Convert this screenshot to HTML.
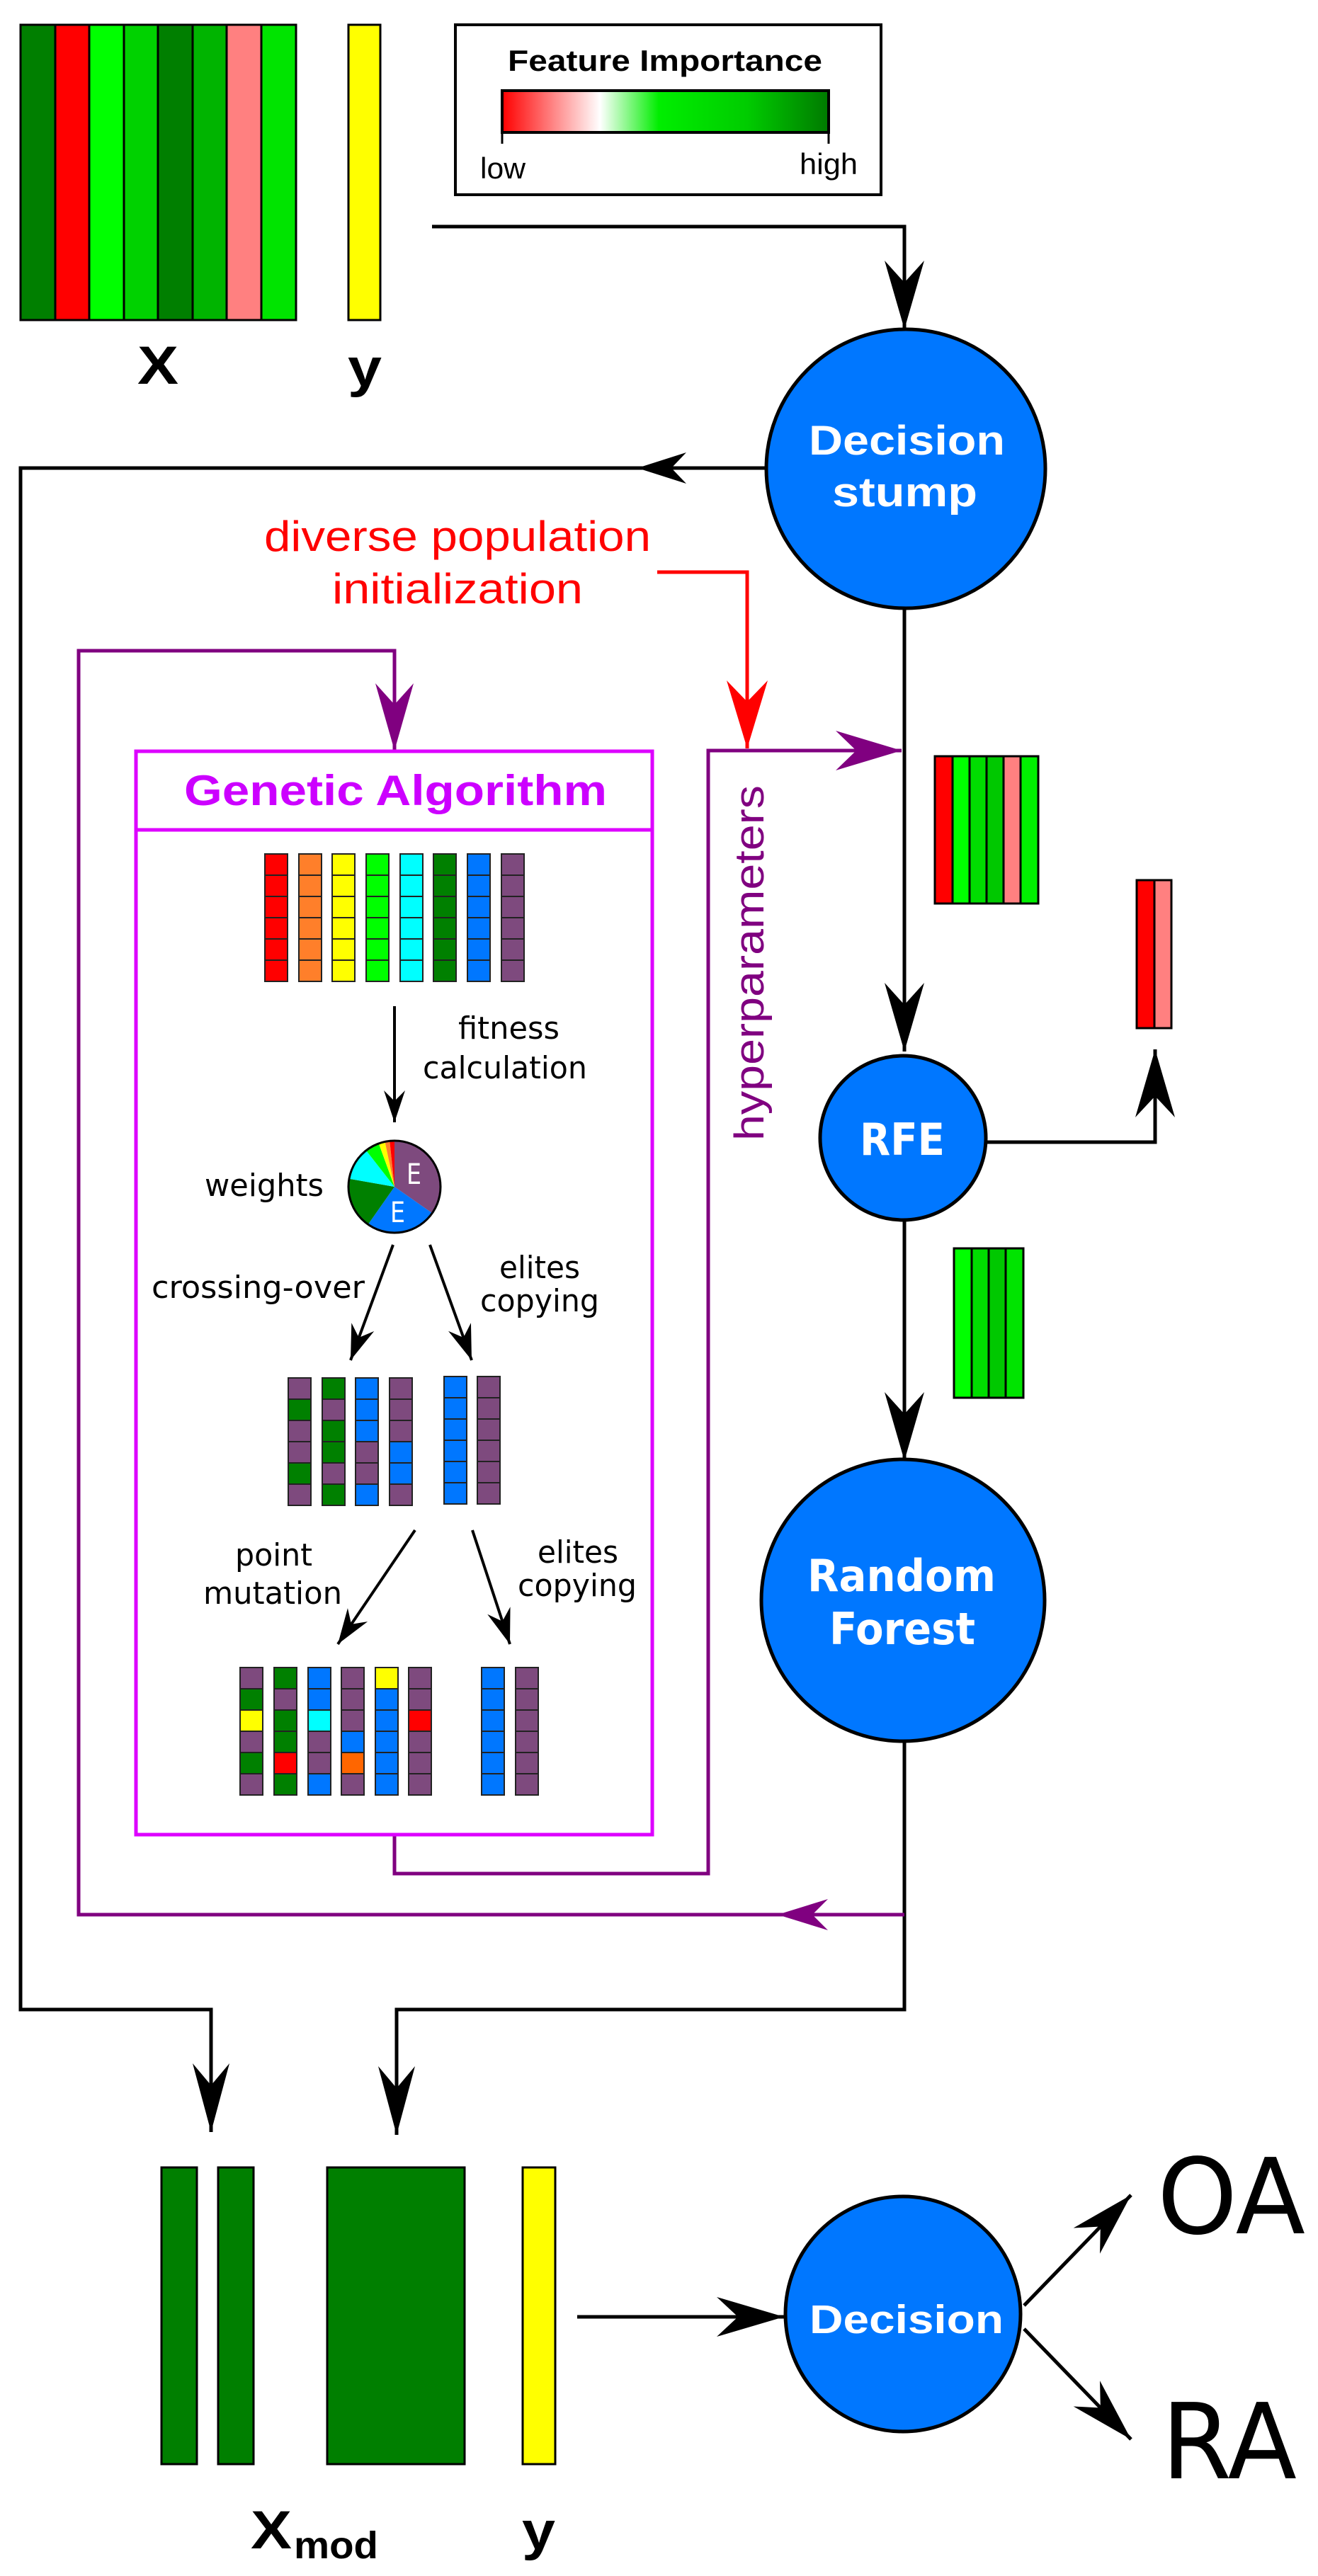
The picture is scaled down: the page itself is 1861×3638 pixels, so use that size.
<!DOCTYPE html>
<html><head><meta charset="utf-8"><style>html,body{margin:0;padding:0;background:#fff}svg{display:block}</style></head>
<body>
<svg width="1861" height="3638" viewBox="0 0 1861 3638" xmlns="http://www.w3.org/2000/svg">
<defs>
<linearGradient id="g" x1="0" x2="1" y1="0" y2="0">
<stop offset="0" stop-color="#ff0000"/><stop offset="0.3" stop-color="#ffffff"/><stop offset="0.48" stop-color="#00ee00"/><stop offset="0.75" stop-color="#00cc00"/><stop offset="1" stop-color="#007a00"/>
</linearGradient>
</defs>

<!-- X matrix -->
<g stroke="#000" stroke-width="3">
<rect x="29" y="35" width="49" height="417" fill="#007f00"/>
<rect x="78" y="35" width="48" height="417" fill="#ff0000"/>
<rect x="126" y="35" width="49" height="417" fill="#00ff00"/>
<rect x="175" y="35" width="48" height="417" fill="#00d200"/>
<rect x="223" y="35" width="49" height="417" fill="#007f00"/>
<rect x="272" y="35" width="48" height="417" fill="#00b400"/>
<rect x="320" y="35" width="49" height="417" fill="#ff8080"/>
<rect x="369" y="35" width="49" height="417" fill="#00e400"/>
<rect x="492" y="35" width="45" height="417" fill="#ffff00"/>
</g>
<text x="194" y="542" font-family="Liberation Sans, sans-serif" font-weight="bold" font-size="76" textLength="58" lengthAdjust="spacingAndGlyphs">X</text>
<text x="491" y="545" font-family="Liberation Sans, sans-serif" font-weight="bold" font-size="76" textLength="48" lengthAdjust="spacingAndGlyphs">y</text>

<!-- legend -->
<rect x="643" y="35" width="601" height="240" fill="#fff" stroke="#000" stroke-width="4"/>
<text x="717" y="100" font-family="Liberation Sans, sans-serif" font-weight="bold" font-size="42" textLength="444" lengthAdjust="spacingAndGlyphs">Feature Importance</text>
<rect x="709" y="128" width="461" height="59" fill="url(#g)" stroke="#000" stroke-width="4"/>
<path d="M709,187 V203 M1170,187 V203" stroke="#000" stroke-width="3"/>
<text x="678" y="252" font-family="Liberation Sans, sans-serif" font-size="42" textLength="64" lengthAdjust="spacingAndGlyphs">low</text>
<text x="1129" y="246" font-family="Liberation Sans, sans-serif" font-size="42" textLength="82" lengthAdjust="spacingAndGlyphs">high</text>

<!-- black connectors -->
<g fill="none" stroke="#000" stroke-width="5">
<path d="M610,320 H1277 V465"/>
<path d="M1082,661 H29 V2838 H298 V3011"/>
<path d="M1277,860 V1485"/>
<path d="M1277,1723 V2063"/>
<path d="M1277,2459 V2838 H560 V3015"/>
<path d="M1391,1613 H1631 V1482"/>
<path d="M815,3272 H1107"/>
<path d="M1446,3256 L1597,3100"/>
<path d="M1446,3289 L1597,3445"/>
</g>
<g stroke="#000" stroke-width="4" fill="none">
<path d="M557,1421 V1585"/>
<path d="M555,1758 L495,1921"/>
<path d="M607,1758 L666,1921"/>
<path d="M586,2161 L477,2322"/>
<path d="M667,2161 L720,2322"/>
</g>

<!-- purple / red connectors -->
<g fill="none" stroke="#800080" stroke-width="5">
<path d="M1277,2704 H111 V919 H557 V1060"/>
<path d="M557,2591 V2646 H1000 V1060 H1273"/>
</g>
<path d="M928,808 H1055 V1057" fill="none" stroke="#ff0000" stroke-width="5"/>

<!-- arrowheads (tip at origin pointing +x) -->
<g fill="#000">
<path transform="translate(1277,465) rotate(90)" d="M0,0 L-97,-28 L-66,0 L-97,28Z"/>
<path transform="translate(900,661) rotate(180)" d="M0,0 L-69,-22 L-48,0 L-69,22Z"/>
<path transform="translate(1277,1485) rotate(90)" d="M0,0 L-97,-28 L-66,0 L-97,28Z"/>
<path transform="translate(1277,2063) rotate(90)" d="M0,0 L-97,-28 L-66,0 L-97,28Z"/>
<path transform="translate(1631,1482) rotate(-90)" d="M0,0 L-96,-28 L-66,0 L-96,28Z"/>
<path transform="translate(298,3011) rotate(90)" d="M0,0 L-97,-26 L-66,0 L-97,26Z"/>
<path transform="translate(560,3015) rotate(90)" d="M0,0 L-97,-26 L-66,0 L-97,26Z"/>
<path transform="translate(1107,3272)" d="M0,0 L-95,-28 L-65,0 L-95,28Z"/>
<path transform="translate(1597,3100) rotate(-45.9)" d="M0,0 L-90,-26 L-62,0 L-90,26Z"/>
<path transform="translate(1597,3445) rotate(45.9)" d="M0,0 L-90,-26 L-62,0 L-90,26Z"/>
<path transform="translate(557,1585) rotate(90)" d="M0,0 L-45,-15 L-30,0 L-45,15Z"/>
<path transform="translate(495,1921) rotate(110.2)" d="M0,0 L-50,-17 L-34,0 L-50,17Z"/>
<path transform="translate(666,1921) rotate(70.1)" d="M0,0 L-50,-17 L-34,0 L-50,17Z"/>
<path transform="translate(477,2322) rotate(124.1)" d="M0,0 L-50,-17 L-34,0 L-50,17Z"/>
<path transform="translate(720,2322) rotate(71.8)" d="M0,0 L-50,-17 L-34,0 L-50,17Z"/>
</g>
<g fill="#800080">
<path transform="translate(557,1060) rotate(90)" d="M0,0 L-95,-27 L-65,0 L-95,27Z"/>
<path transform="translate(1273,1060)" d="M0,0 L-93,-28 L-64,0 L-93,28Z"/>
<path transform="translate(1098,2704) rotate(180)" d="M0,0 L-71,-22 L-49,0 L-71,22Z"/>
</g>
<path fill="#ff0000" transform="translate(1055,1057) rotate(90)" d="M0,0 L-96,-29 L-66,0 L-96,29Z"/>

<!-- nodes -->
<g fill="#0077ff" stroke="#000" stroke-width="5">
<ellipse cx="1279" cy="662" rx="197" ry="197"/>
<ellipse cx="1275" cy="1607" rx="117" ry="116"/>
<ellipse cx="1275" cy="2260" rx="200" ry="199"/>
<ellipse cx="1275" cy="3268" rx="166" ry="166"/>
</g>
<g fill="#fff" font-family="Liberation Sans, sans-serif" font-weight="bold">
<text x="1142" y="642" font-size="58" textLength="277" lengthAdjust="spacingAndGlyphs">Decision</text>
<text x="1175" y="715" font-size="58" textLength="205" lengthAdjust="spacingAndGlyphs">stump</text>
<text x="1143" y="3295" font-size="57" textLength="274" lengthAdjust="spacingAndGlyphs">Decision</text>
</g>
<g fill="#fff" font-family="DejaVu Sans, sans-serif" font-weight="bold">
<text x="1214" y="1631" font-size="62" textLength="120" lengthAdjust="spacingAndGlyphs">RFE</text>
<text x="1140" y="2247" font-size="62" textLength="266" lengthAdjust="spacingAndGlyphs">Random</text>
<text x="1171" y="2322" font-size="62" textLength="206" lengthAdjust="spacingAndGlyphs">Forest</text>
</g>

<!-- red labels -->
<g fill="#ff0000" font-family="Liberation Sans, sans-serif" font-size="60">
<text x="373" y="778" textLength="546" lengthAdjust="spacingAndGlyphs">diverse population</text>
<text x="469" y="852" textLength="354" lengthAdjust="spacingAndGlyphs">initialization</text>
</g>
<text transform="translate(1078,1611) rotate(-90)" fill="#800080" font-family="Liberation Sans, sans-serif" font-size="58" textLength="502" lengthAdjust="spacingAndGlyphs">hyperparameters</text>

<!-- GA box -->
<rect x="192" y="1061" width="729" height="1530" fill="none" stroke="#dd00ff" stroke-width="5"/>
<path d="M192,1172 H921" stroke="#dd00ff" stroke-width="5"/>
<text x="260" y="1137" fill="#cc00ff" font-family="Liberation Sans, sans-serif" font-weight="bold" font-size="60" textLength="597" lengthAdjust="spacingAndGlyphs">Genetic Algorithm</text>

<!-- feature bars -->
<g stroke="#000" stroke-width="3">
<rect x="1320" y="1068" width="25" height="208" fill="#ff0000"/>
<rect x="1345" y="1068" width="24" height="208" fill="#00ff00"/>
<rect x="1369" y="1068" width="24" height="208" fill="#00dd00"/>
<rect x="1393" y="1068" width="24" height="208" fill="#00c800"/>
<rect x="1417" y="1068" width="24" height="208" fill="#ff8080"/>
<rect x="1441" y="1068" width="25" height="208" fill="#00f000"/>
<rect x="1605" y="1243" width="25" height="209" fill="#ff0000"/>
<rect x="1630" y="1243" width="24" height="209" fill="#ff8080"/>
<rect x="1347" y="1763" width="25" height="211" fill="#00ff00"/>
<rect x="1372" y="1763" width="24" height="211" fill="#00dd00"/>
<rect x="1396" y="1763" width="24" height="211" fill="#00c800"/>
<rect x="1420" y="1763" width="25" height="211" fill="#00e400"/>
</g>

<!-- chromosomes -->
<g stroke="#222" stroke-width="2">
<!-- top -->
<g fill="#ff0000"><rect x="374" y="1206" width="32" height="30"/><rect x="374" y="1236" width="32" height="30"/><rect x="374" y="1266" width="32" height="30"/><rect x="374" y="1296" width="32" height="30"/><rect x="374" y="1326" width="32" height="30"/><rect x="374" y="1356" width="32" height="30"/></g>
<g fill="#ff7f2a"><rect x="422" y="1206" width="32" height="30"/><rect x="422" y="1236" width="32" height="30"/><rect x="422" y="1266" width="32" height="30"/><rect x="422" y="1296" width="32" height="30"/><rect x="422" y="1326" width="32" height="30"/><rect x="422" y="1356" width="32" height="30"/></g>
<g fill="#ffff00"><rect x="469" y="1206" width="32" height="30"/><rect x="469" y="1236" width="32" height="30"/><rect x="469" y="1266" width="32" height="30"/><rect x="469" y="1296" width="32" height="30"/><rect x="469" y="1326" width="32" height="30"/><rect x="469" y="1356" width="32" height="30"/></g>
<g fill="#00ff00"><rect x="517" y="1206" width="32" height="30"/><rect x="517" y="1236" width="32" height="30"/><rect x="517" y="1266" width="32" height="30"/><rect x="517" y="1296" width="32" height="30"/><rect x="517" y="1326" width="32" height="30"/><rect x="517" y="1356" width="32" height="30"/></g>
<g fill="#00ffff"><rect x="565" y="1206" width="32" height="30"/><rect x="565" y="1236" width="32" height="30"/><rect x="565" y="1266" width="32" height="30"/><rect x="565" y="1296" width="32" height="30"/><rect x="565" y="1326" width="32" height="30"/><rect x="565" y="1356" width="32" height="30"/></g>
<g fill="#008000"><rect x="612" y="1206" width="32" height="30"/><rect x="612" y="1236" width="32" height="30"/><rect x="612" y="1266" width="32" height="30"/><rect x="612" y="1296" width="32" height="30"/><rect x="612" y="1326" width="32" height="30"/><rect x="612" y="1356" width="32" height="30"/></g>
<g fill="#0077ff"><rect x="660" y="1206" width="32" height="30"/><rect x="660" y="1236" width="32" height="30"/><rect x="660" y="1266" width="32" height="30"/><rect x="660" y="1296" width="32" height="30"/><rect x="660" y="1326" width="32" height="30"/><rect x="660" y="1356" width="32" height="30"/></g>
<g fill="#7e4a7e"><rect x="708" y="1206" width="32" height="30"/><rect x="708" y="1236" width="32" height="30"/><rect x="708" y="1266" width="32" height="30"/><rect x="708" y="1296" width="32" height="30"/><rect x="708" y="1326" width="32" height="30"/><rect x="708" y="1356" width="32" height="30"/></g>

<!-- middle -->
<rect x="407" y="1946" width="32" height="30" fill="#7e4a7e"/><rect x="407" y="1976" width="32" height="30" fill="#008000"/><rect x="407" y="2006" width="32" height="30" fill="#7e4a7e"/><rect x="407" y="2036" width="32" height="30" fill="#7e4a7e"/><rect x="407" y="2066" width="32" height="30" fill="#008000"/><rect x="407" y="2096" width="32" height="30" fill="#7e4a7e"/>
<rect x="455" y="1946" width="32" height="30" fill="#008000"/><rect x="455" y="1976" width="32" height="30" fill="#7e4a7e"/><rect x="455" y="2006" width="32" height="30" fill="#008000"/><rect x="455" y="2036" width="32" height="30" fill="#008000"/><rect x="455" y="2066" width="32" height="30" fill="#7e4a7e"/><rect x="455" y="2096" width="32" height="30" fill="#008000"/>
<rect x="502" y="1946" width="32" height="30" fill="#0077ff"/><rect x="502" y="1976" width="32" height="30" fill="#0077ff"/><rect x="502" y="2006" width="32" height="30" fill="#0077ff"/><rect x="502" y="2036" width="32" height="30" fill="#7e4a7e"/><rect x="502" y="2066" width="32" height="30" fill="#7e4a7e"/><rect x="502" y="2096" width="32" height="30" fill="#0077ff"/>
<rect x="550" y="1946" width="32" height="30" fill="#7e4a7e"/><rect x="550" y="1976" width="32" height="30" fill="#7e4a7e"/><rect x="550" y="2006" width="32" height="30" fill="#7e4a7e"/><rect x="550" y="2036" width="32" height="30" fill="#0077ff"/><rect x="550" y="2066" width="32" height="30" fill="#0077ff"/><rect x="550" y="2096" width="32" height="30" fill="#7e4a7e"/>
<g fill="#0077ff"><rect x="627" y="1944" width="32" height="30"/><rect x="627" y="1974" width="32" height="30"/><rect x="627" y="2004" width="32" height="30"/><rect x="627" y="2034" width="32" height="30"/><rect x="627" y="2064" width="32" height="30"/><rect x="627" y="2094" width="32" height="30"/></g>
<g fill="#7e4a7e"><rect x="674" y="1944" width="32" height="30"/><rect x="674" y="1974" width="32" height="30"/><rect x="674" y="2004" width="32" height="30"/><rect x="674" y="2034" width="32" height="30"/><rect x="674" y="2064" width="32" height="30"/><rect x="674" y="2094" width="32" height="30"/></g>

<!-- bottom -->
<rect x="339" y="2355" width="32" height="30" fill="#7e4a7e"/><rect x="339" y="2385" width="32" height="30" fill="#008000"/><rect x="339" y="2415" width="32" height="30" fill="#ffff00"/><rect x="339" y="2445" width="32" height="30" fill="#7e4a7e"/><rect x="339" y="2475" width="32" height="30" fill="#008000"/><rect x="339" y="2505" width="32" height="30" fill="#7e4a7e"/>
<rect x="387" y="2355" width="32" height="30" fill="#008000"/><rect x="387" y="2385" width="32" height="30" fill="#7e4a7e"/><rect x="387" y="2415" width="32" height="30" fill="#008000"/><rect x="387" y="2445" width="32" height="30" fill="#008000"/><rect x="387" y="2475" width="32" height="30" fill="#ff0000"/><rect x="387" y="2505" width="32" height="30" fill="#008000"/>
<rect x="435" y="2355" width="32" height="30" fill="#0077ff"/><rect x="435" y="2385" width="32" height="30" fill="#0077ff"/><rect x="435" y="2415" width="32" height="30" fill="#00ffff"/><rect x="435" y="2445" width="32" height="30" fill="#7e4a7e"/><rect x="435" y="2475" width="32" height="30" fill="#7e4a7e"/><rect x="435" y="2505" width="32" height="30" fill="#0077ff"/>
<rect x="482" y="2355" width="32" height="30" fill="#7e4a7e"/><rect x="482" y="2385" width="32" height="30" fill="#7e4a7e"/><rect x="482" y="2415" width="32" height="30" fill="#7e4a7e"/><rect x="482" y="2445" width="32" height="30" fill="#0077ff"/><rect x="482" y="2475" width="32" height="30" fill="#ff6600"/><rect x="482" y="2505" width="32" height="30" fill="#7e4a7e"/>
<rect x="530" y="2355" width="32" height="30" fill="#ffff00"/><rect x="530" y="2385" width="32" height="30" fill="#0077ff"/><rect x="530" y="2415" width="32" height="30" fill="#0077ff"/><rect x="530" y="2445" width="32" height="30" fill="#0077ff"/><rect x="530" y="2475" width="32" height="30" fill="#0077ff"/><rect x="530" y="2505" width="32" height="30" fill="#0077ff"/>
<rect x="577" y="2355" width="32" height="30" fill="#7e4a7e"/><rect x="577" y="2385" width="32" height="30" fill="#7e4a7e"/><rect x="577" y="2415" width="32" height="30" fill="#ff0000"/><rect x="577" y="2445" width="32" height="30" fill="#7e4a7e"/><rect x="577" y="2475" width="32" height="30" fill="#7e4a7e"/><rect x="577" y="2505" width="32" height="30" fill="#7e4a7e"/>
<g fill="#0077ff"><rect x="680" y="2355" width="32" height="30"/><rect x="680" y="2385" width="32" height="30"/><rect x="680" y="2415" width="32" height="30"/><rect x="680" y="2445" width="32" height="30"/><rect x="680" y="2475" width="32" height="30"/><rect x="680" y="2505" width="32" height="30"/></g>
<g fill="#7e4a7e"><rect x="728" y="2355" width="32" height="30"/><rect x="728" y="2385" width="32" height="30"/><rect x="728" y="2415" width="32" height="30"/><rect x="728" y="2445" width="32" height="30"/><rect x="728" y="2475" width="32" height="30"/><rect x="728" y="2505" width="32" height="30"/></g>
</g>

<!-- pie -->
<g stroke="none">
<path d="M557,1676 L557,1611 A65,65 0 0 1 610.2,1713.3 Z" fill="#7e4a7e"/>
<path d="M557,1676 L610.2,1713.3 A65,65 0 0 1 519.7,1729.2 Z" fill="#0077ff"/>
<path d="M557,1676 L519.7,1729.2 A65,65 0 0 1 493,1664.7 Z" fill="#008000"/>
<path d="M557,1676 L493,1664.7 A65,65 0 0 1 517,1624.8 Z" fill="#00ffff"/>
<path d="M557,1676 L517,1624.8 A65,65 0 0 1 534.8,1614.9 Z" fill="#00ff00"/>
<path d="M557,1676 L534.8,1614.9 A65,65 0 0 1 543.5,1612.4 Z" fill="#ffff00"/>
<path d="M557,1676 L543.5,1612.4 A65,65 0 0 1 550.2,1611.3 Z" fill="#ff7f2a"/>
<path d="M557,1676 L550.2,1611.3 A65,65 0 0 1 557,1611 Z" fill="#ff0000"/>
</g>
<circle cx="557" cy="1676" r="65" fill="none" stroke="#000" stroke-width="3"/>
<g fill="#fff" font-family="DejaVu Sans, sans-serif" font-size="40">
<text x="574" y="1672" textLength="21" lengthAdjust="spacingAndGlyphs">E</text>
<text x="551" y="1726" textLength="21" lengthAdjust="spacingAndGlyphs">E</text>
</g>

<!-- GA labels -->
<g fill="#000" font-family="DejaVu Sans, sans-serif" font-size="44">
<text x="647" y="1467" textLength="143" lengthAdjust="spacingAndGlyphs">fitness</text>
<text x="597" y="1523" textLength="232" lengthAdjust="spacingAndGlyphs">calculation</text>
<text x="289" y="1689" textLength="168" lengthAdjust="spacingAndGlyphs">weights</text>
<text x="214" y="1833" textLength="301" lengthAdjust="spacingAndGlyphs">crossing-over</text>
<text x="705" y="1805" textLength="114" lengthAdjust="spacingAndGlyphs">elites</text>
<text x="678" y="1852" textLength="168" lengthAdjust="spacingAndGlyphs">copying</text>
<text x="332" y="2211" textLength="109" lengthAdjust="spacingAndGlyphs">point</text>
<text x="287" y="2265" textLength="196" lengthAdjust="spacingAndGlyphs">mutation</text>
<text x="759" y="2207" textLength="114" lengthAdjust="spacingAndGlyphs">elites</text>
<text x="731" y="2254" textLength="168" lengthAdjust="spacingAndGlyphs">copying</text>
</g>

<!-- bottom data -->
<g stroke="#000" stroke-width="3">
<rect x="228" y="3061" width="50" height="419" fill="#007f00"/>
<rect x="308" y="3061" width="50" height="419" fill="#007f00"/>
<rect x="462" y="3061" width="194" height="419" fill="#007f00"/>
<rect x="738" y="3061" width="46" height="419" fill="#ffff00"/>
</g>
<text x="354" y="3599" font-family="Liberation Sans, sans-serif" font-weight="bold" font-size="76" textLength="58" lengthAdjust="spacingAndGlyphs">X</text>
<text x="415" y="3613" font-family="Liberation Sans, sans-serif" font-weight="bold" font-size="54" textLength="119" lengthAdjust="spacingAndGlyphs">mod</text>
<text x="737" y="3600" font-family="Liberation Sans, sans-serif" font-weight="bold" font-size="76" textLength="47" lengthAdjust="spacingAndGlyphs">y</text>

<text x="1634" y="3154" font-family="DejaVu Sans, sans-serif" font-size="148" textLength="209" lengthAdjust="spacingAndGlyphs">OA</text>
<text x="1640" y="3500" font-family="DejaVu Sans, sans-serif" font-size="148" textLength="191" lengthAdjust="spacingAndGlyphs">RA</text>
</svg>
</body></html>
